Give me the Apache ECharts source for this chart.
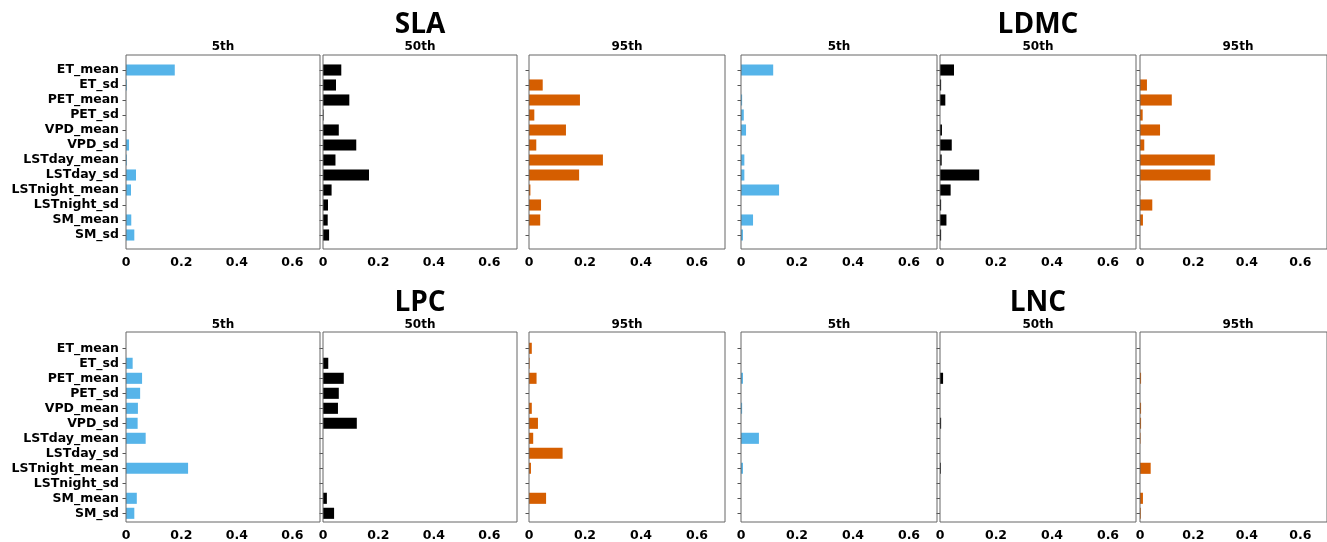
<!DOCTYPE html>
<html><head><meta charset="utf-8">
<script src="https://cdn.jsdelivr.net/npm/echarts@6/dist/echarts.min.js"></script>
<style>html,body{margin:0;padding:0;background:#fff}#c{width:1327px;height:542px}</style>
</head><body><div id="c"></div>
<script>
const categories = ['ET_mean','ET_sd','PET_mean','PET_sd','VPD_mean','VPD_sd','LSTday_mean','LSTday_sd','LSTnight_mean','LSTnight_sd','SM_mean','SM_sd'];
const traits = ['SLA','LDMC','LPC','LNC'];
const percentiles = ['5th','50th','95th'];
const xTickValues = [0, 0.2, 0.4, 0.6];

const SLA_5th  = [0.176,0.003,0,0,0,0.011,0.003,0.036,0.018,0,0.019,0.030];
const SLA_50th = [0.066,0.047,0.095,0.002,0.057,0.120,0.045,0.166,0.031,0.018,0.017,0.022];
const SLA_95th = [0,0.049,0.182,0.019,0.132,0.026,0.264,0.179,0.005,0.043,0.040,0];

const LDMC_5th  = [0.115,0,0.004,0.010,0.018,0,0.012,0.012,0.136,0,0.043,0.007];
const LDMC_50th = [0.050,0.004,0.019,0,0.007,0.042,0.006,0.140,0.038,0.004,0.023,0.004];
const LDMC_95th = [0,0.026,0.119,0.010,0.075,0.016,0.280,0.264,0.001,0.046,0.011,0];

const LPC_5th  = [0,0.024,0.058,0.051,0.043,0.042,0.071,0,0.224,0,0.039,0.030];
const LPC_50th = [0,0.019,0.075,0.057,0.054,0.122,0,0,0,0,0.014,0.040];
const LPC_95th = [0.010,0.002,0.027,0,0.010,0.032,0.015,0.120,0.007,0,0.061,0];

const LNC_5th  = [0,0,0.007,0,0.004,0,0.064,0,0.007,0,0,0];
const LNC_50th = [0,0,0.011,0,0,0.004,0,0,0.003,0,0,0];
const LNC_95th = [0,0,0.004,0,0.004,0.004,0.002,0,0.040,0,0.011,0.003];

const traitData = [
  [SLA_5th, SLA_50th, SLA_95th],
  [LDMC_5th, LDMC_50th, LDMC_95th],
  [LPC_5th, LPC_50th, LPC_95th],
  [LNC_5th, LNC_50th, LNC_95th]
];
const colors = ['#56B4E9', '#000000', '#D55E00'];

// layout
const colLeft = [126, 323, 529, 741, 940, 1140];
const colWidth = [194, 194, 196, 196, 196, 196];
const boxTop = [55, 332];
const boxH = [194, 195];
const innerTop = [62.5, 340.8];
const innerH = 180;
const traitTitleY = [25.5, 303];
const pctTitleY = [47, 324.5];

const FONT = 'DejaVu Sans';
const grids = [], xAxes = [], yAxes = [], series = [], graphics = [];
let idx = 0;
traits.forEach((t, ti) => {
  const row = Math.floor(ti / 2);
  const grp = ti % 2;
  percentiles.forEach((p, pi) => {
    const col = grp * 3 + pi;
    const L = colLeft[col], W = colWidth[col];
    // box grid
    grids.push({left: L, top: boxTop[row], width: W, height: boxH[row], show: true,
      borderColor: '#666', borderWidth: 1, backgroundColor: 'transparent', z: 3});
    xAxes.push({gridIndex: 2*idx, type: 'value', min: 0, max: 0.7, interval: 0.2,
      axisLine: {show: false}, axisTick: {show: false}, splitLine: {show: false},
      axisLabel: {show: true, margin: 7, fontFamily: FONT, fontWeight: 'bold', fontSize: 12.5, color: '#000',
        showMaxLabel: false,
        formatter: v => { const m = xTickValues.find(x => Math.abs(x - v) < 1e-9); return m === undefined ? '' : String(m); }}});
    yAxes.push({gridIndex: 2*idx, type: 'value', show: false});
    // inner grid
    grids.push({left: L, top: innerTop[row], width: W, height: innerH, show: false});
    xAxes.push({gridIndex: 2*idx+1, type: 'value', min: 0, max: 0.7, show: false});
    yAxes.push({gridIndex: 2*idx+1, type: 'category', inverse: true, data: categories,
      axisLine: {show: false},
      axisTick: {show: true, interval: 0, alignWithLabel: true, length: 3.5, lineStyle: {color: '#555', width: 1}},
      axisLabel: {show: col === 0, interval: 0, margin: 7, fontFamily: FONT, fontWeight: 'bold', fontSize: 12.5, color: '#000'}});
    series.push({type: 'bar', xAxisIndex: 2*idx+1, yAxisIndex: 2*idx+1, data: traitData[ti][pi],
      barWidth: '74%', itemStyle: {color: colors[pi]}, silent: true});
    graphics.push({type: 'text', x: L + W/2, y: pctTitleY[row],
      style: {text: p, font: 'bold 12px "DejaVu Sans"', fill: '#000', align: 'center', verticalAlign: 'middle'}});
    if (pi === 1) {
      graphics.push({type: 'text', x: L + W/2, y: traitTitleY[row],
        style: {text: t, font: 'bold 28px "Open Sans"', fill: '#000', align: 'center', verticalAlign: 'middle'}});
    }
    idx++;
  });
});

const chart = echarts.init(document.getElementById('c'), null, {renderer: 'canvas'});
chart.setOption({
  animation: false,
  backgroundColor: '#fff',
  grid: grids, xAxis: xAxes, yAxis: yAxes, series: series, graphic: graphics
});
</script></body></html>
